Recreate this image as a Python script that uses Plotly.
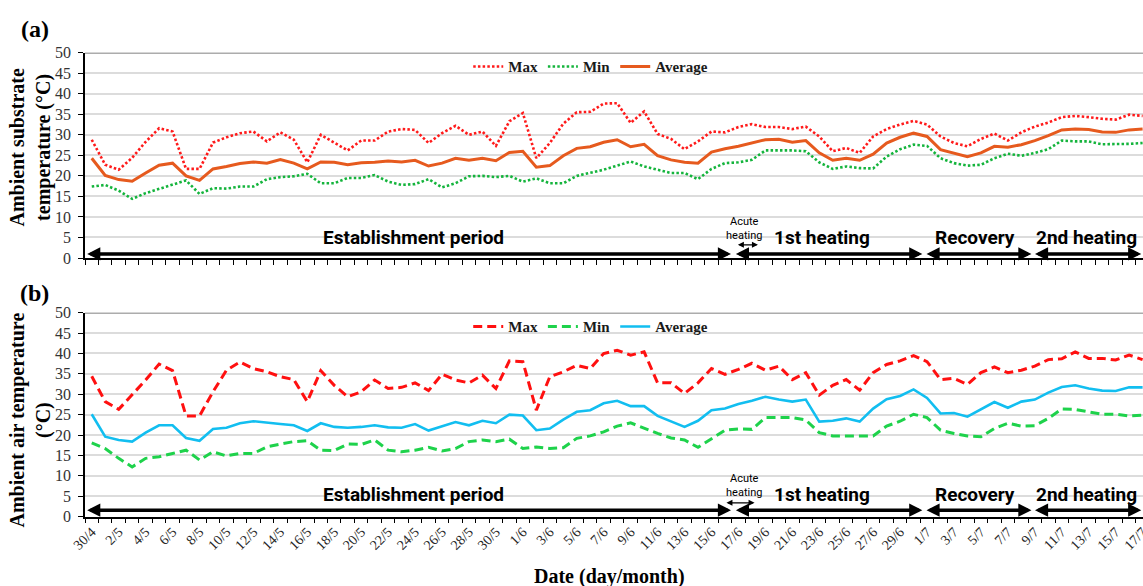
import plotly.graph_objects as go

# ---- categories: one entry per day, 30 April to 17 July ----
dates = (["30/4"]
         + [f"{d}/5" for d in range(1, 32)]
         + [f"{d}/6" for d in range(1, 31)]
         + [f"{d}/7" for d in range(1, 18)])
day_idx = list(range(len(dates)))
tick_pos = day_idx[::2]
tick_text = dates[::2]

# ---- (a) ambient substrate temperature (°C) ----
sub_max = [28.8, 22.7, 21.5, 24.4, 28.3, 31.6, 30.8, 21.7, 21.7, 28.1,
           29.4, 30.4, 30.8, 28.4, 30.6, 28.8, 23.3, 30.0, 28.1, 26.2,
           28.6, 28.6, 30.8, 31.4, 31.2, 28.0, 30.4, 32.2, 30.0, 30.8,
           27.3, 33.3, 35.3, 24.3, 28.0, 32.7, 35.5, 35.6, 37.6, 37.7,
           32.9, 35.7, 30.2, 29.0, 26.5, 28.4, 30.8, 30.6, 31.9, 32.6,
           31.9, 31.9, 31.4, 32.0, 29.6, 26.0, 26.8, 25.6, 29.6, 31.4,
           32.5, 33.4, 32.5, 29.6, 28.0, 27.2, 29.0, 30.3, 28.6, 30.6,
           32.0, 33.0, 34.3, 34.6, 34.3, 33.9, 33.7, 34.9, 34.6]
sub_min = [17.4, 17.8, 16.4, 14.4, 15.8, 16.8, 17.8, 18.9, 15.6, 17.0,
           16.9, 17.4, 17.4, 19.2, 19.7, 19.9, 20.5, 18.2, 18.2, 19.5,
           19.5, 20.2, 18.6, 17.8, 18.0, 19.2, 17.2, 18.2, 19.9, 20.0,
           19.7, 20.0, 18.6, 19.4, 18.2, 18.2, 20.0, 20.7, 21.5, 22.5,
           23.5, 22.3, 21.5, 20.7, 20.7, 19.2, 21.7, 23.1, 23.3, 23.9,
           26.2, 26.2, 26.2, 26.0, 23.3, 21.7, 22.3, 21.9, 21.8, 24.7,
           26.5, 27.6, 27.3, 24.3, 23.1, 22.5, 22.7, 24.3, 25.4, 24.9,
           25.6, 26.5, 28.6, 28.4, 28.4, 27.7, 27.7, 27.8, 28.0]
sub_avg = [24.3, 20.1, 19.1, 18.7, 20.7, 22.6, 23.1, 20.0, 18.9, 21.7,
           22.3, 23.0, 23.4, 23.1, 24.0, 23.1, 21.7, 23.4, 23.3, 22.7,
           23.2, 23.3, 23.6, 23.4, 23.8, 22.4, 23.1, 24.3, 23.8, 24.3,
           23.7, 25.7, 26.0, 22.1, 22.5, 24.9, 26.7, 27.1, 28.2, 28.8,
           27.1, 27.7, 24.9, 23.9, 23.3, 23.1, 25.8, 26.6, 27.2, 28.0,
           28.8, 28.9, 28.2, 28.6, 25.6, 23.8, 24.3, 23.8, 25.3, 28.0,
           29.4, 30.4, 29.6, 26.4, 25.6, 24.7, 25.6, 27.2, 27.0, 27.6,
           28.6, 29.8, 31.2, 31.4, 31.3, 30.7, 30.6, 31.2, 31.4]

# ---- (b) ambient air temperature (°C) ----
air_max = [34.4, 28.2, 26.3, 29.8, 33.5, 37.4, 35.8, 24.7, 24.7, 30.6,
           35.9, 37.9, 36.3, 35.5, 34.3, 33.6, 28.2, 35.8, 32.2, 29.4,
           30.6, 33.5, 31.4, 31.7, 32.8, 30.9, 34.9, 33.5, 32.8, 34.7,
           31.4, 38.2, 38.0, 26.1, 34.3, 35.5, 37.1, 36.3, 40.0, 40.8,
           39.6, 40.4, 32.8, 32.8, 30.2, 32.8, 36.3, 34.9, 36.1, 37.6,
           35.9, 36.9, 33.6, 35.3, 29.8, 32.2, 33.6, 31.0, 35.3, 37.3,
           38.2, 39.5, 38.0, 33.6, 33.9, 32.4, 35.3, 36.7, 35.3, 35.9,
           36.9, 38.5, 38.7, 40.4, 38.8, 38.8, 38.4, 39.6, 38.5]
air_min = [18.1, 16.7, 14.3, 12.2, 14.3, 14.7, 15.5, 16.3, 13.9, 15.9,
           14.9, 15.5, 15.5, 17.1, 17.8, 18.4, 18.6, 16.3, 16.2, 17.8,
           17.7, 18.8, 16.3, 15.9, 16.3, 17.0, 16.1, 16.7, 18.4, 18.8,
           18.4, 19.0, 16.7, 17.1, 16.7, 16.9, 19.2, 19.8, 20.8, 22.2,
           23.0, 21.6, 20.4, 19.3, 18.8, 17.0, 19.0, 21.2, 21.5, 21.4,
           24.3, 24.3, 24.3, 23.7, 20.6, 19.8, 19.8, 19.8, 19.8, 22.2,
           23.4, 25.1, 24.3, 21.2, 20.4, 19.8, 19.6, 21.6, 22.9, 22.2,
           22.3, 24.1, 26.4, 26.3, 25.7, 25.1, 25.1, 24.7, 24.9]
air_avg = [25.1, 19.6, 18.8, 18.4, 20.6, 22.4, 22.4, 19.3, 18.6, 21.5,
           21.8, 22.9, 23.4, 23.0, 22.7, 22.4, 21.0, 22.9, 22.0, 21.8,
           22.0, 22.4, 21.9, 21.8, 22.7, 21.1, 22.2, 23.2, 22.4, 23.5,
           22.9, 25.0, 24.8, 21.2, 21.6, 23.8, 25.7, 26.1, 27.8, 28.4,
           27.1, 27.1, 24.7, 23.3, 22.0, 23.5, 26.1, 26.5, 27.6, 28.4,
           29.4, 28.7, 28.2, 28.7, 23.3, 23.5, 24.1, 23.3, 26.5, 28.8,
           29.6, 31.2, 29.1, 25.3, 25.4, 24.5, 26.3, 28.1, 26.7, 28.2,
           28.7, 30.4, 31.8, 32.2, 31.4, 30.9, 30.8, 31.7, 31.7]

# ---- experimental periods (day-index span, label) ----
period_names = ["Establishment period", "1st heating", "Recovery", "2nd heating"]
period_start = [-0.45, 47.7, 61.85, 69.9]
period_end = [47.45, 61.65, 69.75, 77.9]
period_label_x = [23.9, 54.2, 65.55, 73.85]

SERIF = "Liberation Serif, Times New Roman, serif"
SANS = "Roboto, Arial, sans-serif"

fig = go.Figure()


def add_line(y, name, color, dash, width, xa, ya, legend):
    fig.add_trace(go.Scatter(
        x=day_idx, y=y, name=name, mode="lines",
        line=dict(color=color, dash=dash, width=width),
        xaxis=xa, yaxis=ya, legend=legend, hoverinfo="skip"))


# panel (a)
add_line(sub_max, "Max", "#FF1A1A", "2.5px,2.2px", 2.6, "x", "y", "legend")
add_line(sub_min, "Min", "#14B43C", "2.5px,2.2px", 2.6, "x", "y", "legend")
add_line(sub_avg, "Average", "#E65A1E", None, 3, "x", "y", "legend")
# panel (b)
add_line(air_max, "Max", "#FF1010", "9px,5px", 3, "x2", "y2", "legend2")
add_line(air_min, "Min", "#1ED24B", "9px,5px", 3, "x2", "y2", "legend2")
add_line(air_avg, "Average", "#12BEF0", None, 2.6, "x2", "y2", "legend2")

xcommon = dict(
    range=[-0.5, 78.03], showgrid=False, zeroline=False, automargin=False,
    showline=True, linecolor="black", linewidth=1.5,
    tickmode="array", tickvals=tick_pos, ticktext=tick_text, ticks="",
    tickangle=-45, ticklabeloverflow="allow",
    tickfont=dict(family=SERIF, size=14, color="#262626"),
    minor=dict(tick0=-0.5, dtick=1, ticks="outside", ticklen=5,
               tickcolor="black", tickwidth=1),
    domain=[0, 1],
)
ycommon = dict(
    range=[0, 50], tick0=0, dtick=5, showgrid=True, gridcolor="#DCDCDC",
    gridwidth=1.5, zeroline=False, showline=True, linecolor="black",
    linewidth=1.5, ticks="outside", ticklen=5, tickcolor="black",
    ticklabelstandoff=4, automargin=False,
    tickfont=dict(family=SERIF, size=16, color="#333333"),
)

legend_common = dict(
    orientation="h", xanchor="center", yanchor="middle",
    bgcolor="rgba(0,0,0,0)", itemwidth=30, tracegroupgap=0,
    font=dict(family=SERIF, size=15, color="#1A1A1A", weight="bold"),
)

fig.update_layout(
    width=1143, height=586, autosize=False,
    margin=dict(l=85, r=0, t=0, b=0, pad=0),
    paper_bgcolor="white", plot_bgcolor="white",
    xaxis=dict(xcommon, anchor="y", showticklabels=False),
    yaxis=dict(ycommon, domain=[0.5597, 0.9101], anchor="x"),
    xaxis2=dict(xcommon, anchor="y2"),
    yaxis2=dict(ycommon, domain=[0.1183, 0.4664], anchor="x2"),
    legend=dict(legend_common, x=0.478, y=0.886),
    legend2=dict(legend_common, x=0.478, y=0.4425),
    showlegend=True,
)

# darker top border on each panel
for ya in ["y", "y2"]:
    fig.add_shape(type="line", xref="x domain" if ya == "y" else "x2 domain",
                  yref=ya, x0=0, x1=1, y0=50, y1=50,
                  line=dict(color="#5A5A5A", width=1.5))

ann = []


def paper_text(text, x, y, size, angle=0):
    ann.append(dict(text=text, xref="paper", yref="paper", x=x, y=y,
                    xanchor="center", yanchor="middle", textangle=angle,
                    showarrow=False, font=dict(family=SERIF, size=size, color="black")))


# panel letters
paper_text("<b>(a)</b>", -0.0473, 0.9505, 24)
paper_text("<b>(b)</b>", -0.0473, 0.5, 24)

# axis titles
paper_text("<b>Ambient substrate<br>temperature (°C)</b>", -0.0515, 0.7474, 20, -90)
paper_text("<b>Ambient air temperature<br>(°C)</b>", -0.0515, 0.2833, 20, -90)
paper_text("<b>Date (day/month)</b>", 0.4962, 0.0154, 20)

# period arrows and labels for each panel
panel_cfg = [("x", "y", 1.0, 5.0, 7.2, 3.2, 47.85, 49.45),
             ("x2", "y2", 1.6, 5.5, 7.6, 3.4, 47.0, 49.2)]
for xr, yr, arrow_y, label_y, acute_y, acute_arrow_y, ac0, ac1 in panel_cfg:
    for name, x0, x1, lx in zip(period_names, period_start, period_end, period_label_x):
        ann.append(dict(x=x1, y=arrow_y, ax=x0, ay=arrow_y, xref=xr, yref=yr,
                        axref=xr, ayref=yr, text="", showarrow=True,
                        arrowhead=2, arrowside="end+start", arrowsize=0.75,
                        arrowwidth=3.5, arrowcolor="black", standoff=0, startstandoff=0))
        ann.append(dict(x=lx, y=label_y, xref=xr, yref=yr, text=f"<b>{name}</b>",
                        showarrow=False, yanchor="middle",
                        font=dict(family=SANS, size=19, color="black")))
    ann.append(dict(x=48.45, y=acute_y, xref=xr, yref=yr, text="Acute<br>heating",
                    showarrow=False, font=dict(family=SANS, size=11, color="black")))
    ann.append(dict(x=ac1, y=acute_arrow_y, ax=ac0, ay=acute_arrow_y, xref=xr, yref=yr,
                    axref=xr, ayref=yr, text="", showarrow=True, arrowhead=2,
                    arrowside="end+start", arrowsize=1, arrowwidth=1.2,
                    arrowcolor="black", standoff=0, startstandoff=0))

fig.update_layout(annotations=ann)

fig.write_html("out.html")
